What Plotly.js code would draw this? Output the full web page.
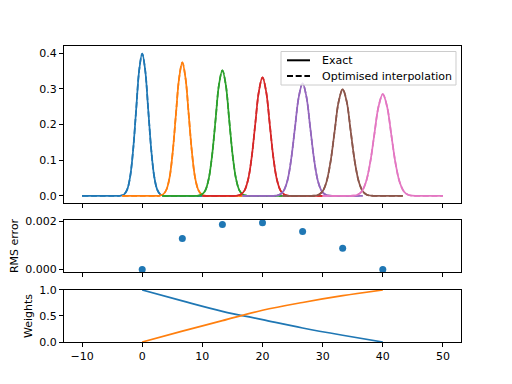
<!DOCTYPE html>
<html>
<head>
<meta charset="utf-8">
<script src="https://cdn.plot.ly/plotly-3.0.1.min.js"></script>
<style>html,body{margin:0;padding:0;background:#fff;}</style>
</head>
<body>
<div id="chart" style="width:512px;height:384px;"></div>
<script>
// ---- data ----
const xTicks = [-10, 0, 10, 20, 30, 40, 50];
const centers = [0, 6.67, 13.33, 20, 26.67, 33.33, 40];
const rmsError = [0, 0.00129, 0.00187, 0.00195, 0.00158, 0.00089, 0];
const weightA = [1, 0.79, 0.59, 0.43, 0.27, 0.13, 0];
const weightB = [0, 0.21, 0.41, 0.61, 0.76, 0.89, 1];
const legendLabels = ['Exact', 'Optimised interpolation'];
const colors = ['#1f77b4', '#ff7f0e', '#2ca02c', '#d62728', '#9467bd', '#8c564b', '#e377c2'];

const curveX0 = [-10, -4, -3.5, -3, -2.5, -2, -1.5, -1, -0.5, 0, 0.5, 1, 1.5, 2, 2.5, 3, 3.5, 4, 10];
const curveY0 = [0, 0.0001, 0.0009, 0.0044, 0.0175, 0.054, 0.130, 0.242, 0.352, 0.399, 0.352, 0.242, 0.130, 0.054, 0.0175, 0.0044, 0.0009, 0.0001, 0];
const curveX1 = [-3.33, 2.40, 2.94, 3.47, 4.00, 4.54, 5.07, 5.60, 6.14, 6.67, 7.20, 7.74, 8.27, 8.80, 9.34, 9.87, 10.40, 10.94, 16.67];
const curveY1 = [0, 0.0001, 0.0008, 0.0041, 0.0164, 0.0506, 0.122, 0.227, 0.330, 0.374, 0.330, 0.227, 0.122, 0.0506, 0.0164, 0.0041, 0.0008, 0.0001, 0];
const curveX2 = [3.33, 8.80, 9.36, 9.93, 10.50, 11.06, 11.63, 12.20, 12.76, 13.33, 13.90, 14.46, 15.03, 15.60, 16.16, 16.73, 17.30, 17.86, 23.33];
const curveY2 = [0, 0.0001, 0.0008, 0.0039, 0.0154, 0.0477, 0.115, 0.214, 0.311, 0.352, 0.311, 0.214, 0.115, 0.0477, 0.0154, 0.0039, 0.0008, 0.0001, 0];
const curveX3 = [10, 15.2, 15.8, 16.4, 17.0, 17.6, 18.2, 18.8, 19.4, 20, 20.6, 21.2, 21.8, 22.4, 23.0, 23.6, 24.2, 24.8, 30];
const curveY3 = [0, 0.0001, 0.0008, 0.0037, 0.0146, 0.045, 0.108, 0.202, 0.293, 0.332, 0.293, 0.202, 0.108, 0.045, 0.0146, 0.0037, 0.0008, 0.0001, 0];
const curveX4 = [16.67, 21.60, 22.24, 22.87, 23.50, 24.14, 24.77, 25.40, 26.04, 26.67, 27.30, 27.94, 28.57, 29.20, 29.84, 30.47, 31.10, 31.74, 36.67];
const curveY4 = [0, 0.0001, 0.0007, 0.0035, 0.0138, 0.0426, 0.103, 0.191, 0.278, 0.315, 0.278, 0.191, 0.103, 0.0426, 0.0138, 0.0035, 0.0007, 0.0001, 0];
const curveX5 = [23.33, 28.0, 28.66, 29.33, 30.0, 30.66, 31.33, 32.0, 32.66, 33.33, 34.0, 34.66, 35.33, 36.0, 36.66, 37.33, 38.0, 38.66, 43.33];
const curveY5 = [0, 0.0001, 0.0007, 0.0033, 0.0131, 0.0405, 0.0975, 0.182, 0.264, 0.299, 0.264, 0.182, 0.0975, 0.0405, 0.0131, 0.0033, 0.0007, 0.0001, 0];
const curveX6 = [30, 34.4, 35.1, 35.8, 36.5, 37.2, 37.9, 38.6, 39.3, 40, 40.7, 41.4, 42.1, 42.8, 43.5, 44.2, 44.9, 45.6, 50];
const curveY6 = [0, 0.0001, 0.0006, 0.0031, 0.0125, 0.0386, 0.093, 0.173, 0.251, 0.285, 0.251, 0.173, 0.093, 0.0386, 0.0125, 0.0031, 0.0006, 0.0001, 0];

const curvesX = [curveX0, curveX1, curveX2, curveX3, curveX4, curveX5, curveX6];
const curvesY = [curveY0, curveY1, curveY2, curveY3, curveY4, curveY5, curveY6];

const DASH = '6px,2.7px';

// ---- traces ----
const traces = [];
curvesX.forEach((xs, i) => {
  traces.push({x: xs, y: curvesY[i], type: 'scatter', mode: 'lines', xaxis: 'x', yaxis: 'y',
    name: legendLabels[0], line: {color: colors[i], width: 1.7, shape: 'spline'}, hoverinfo: 'skip'});
  traces.push({x: xs, y: curvesY[i], type: 'scatter', mode: 'lines', xaxis: 'x', yaxis: 'y',
    name: legendLabels[1], line: {color: colors[i], width: 1.7, shape: 'spline', dash: DASH}, hoverinfo: 'skip'});
});

traces.push({x: centers, y: rmsError, type: 'scatter', mode: 'markers', xaxis: 'x2', yaxis: 'y2',
  marker: {color: colors[0], size: 7}, cliponaxis: false});

traces.push({x: centers, y: weightA, type: 'scatter', mode: 'lines', xaxis: 'x3', yaxis: 'y3',
  line: {color: colors[0], width: 1.7, shape: 'spline'}, cliponaxis: false});
traces.push({x: centers, y: weightB, type: 'scatter', mode: 'lines', xaxis: 'x3', yaxis: 'y3',
  line: {color: colors[1], width: 1.7, shape: 'spline'}, cliponaxis: false});

const axBase = {
  showline: true, mirror: true, linecolor: 'black', linewidth: 1,
  ticks: 'outside', ticklen: 4, tickcolor: 'black', tickwidth: 1,
  showgrid: false, zeroline: false
};
const xBase = Object.assign({}, axBase, {range: [-13, 53], tickmode: 'array', tickvals: xTicks,
  ticktext: xTicks.map(v => v < 0 ? '\u2212' + Math.abs(v) : String(v))});

// matplotlib-style legend box (paper coordinates of the top panel)
const legBox = {x0: 0.5466, x1: 0.9874, y0: 0.8682, y1: 0.9814};
const legRows = [0.9517, 0.8986];
const legLineX = [0.5617, 0.6196];
const legTextX = 0.6448;

const shapes = [
  {type: 'rect', xref: 'paper', yref: 'paper', x0: legBox.x0, x1: legBox.x1, y0: legBox.y0, y1: legBox.y1,
   fillcolor: 'rgba(255,255,255,0.8)', line: {color: '#cccccc', width: 1}, layer: 'above'}
];
const annotations = [];
legendLabels.forEach((lab, i) => {
  shapes.push({type: 'line', xref: 'paper', yref: 'paper', x0: legLineX[0], x1: legLineX[1],
    y0: legRows[i], y1: legRows[i], line: {color: 'black', width: 2, dash: i === 1 ? DASH : 'solid'}, layer: 'above'});
  annotations.push({xref: 'paper', yref: 'paper', x: legTextX, y: legRows[i], text: lab,
    showarrow: false, xanchor: 'left', yanchor: 'middle', font: {family: 'DejaVu Sans', size: 11, color: 'black'}});
});

const layout = {
  width: 512, height: 384,
  margin: {l: 64, r: 51, t: 46, b: 42},
  paper_bgcolor: 'white', plot_bgcolor: 'white',
  font: {family: 'DejaVu Sans', size: 11, color: 'black'},
  showlegend: false,
  shapes: shapes,
  annotations: annotations,
  xaxis: Object.assign({}, xBase, {anchor: 'y', showticklabels: false}),
  xaxis2: Object.assign({}, xBase, {anchor: 'y2', showticklabels: false}),
  xaxis3: Object.assign({}, xBase, {anchor: 'y3', showticklabels: true}),
  yaxis: Object.assign({}, axBase, {anchor: 'x', domain: [0.4696, 1], range: [-0.02, 0.42],
    tickmode: 'array', tickvals: [0, 0.1, 0.2, 0.3, 0.4], ticktext: ['0.0', '0.1', '0.2', '0.3', '0.4']}),
  yaxis2: Object.assign({}, axBase, {anchor: 'x2', domain: [0.2365, 0.4122], range: [-0.0001, 0.00206],
    tickmode: 'array', tickvals: [0, 0.002], ticktext: ['0.000', '0.002'],
    title: {text: 'RMS error', font: {size: 11}, standoff: 4}}),
  yaxis3: Object.assign({}, axBase, {anchor: 'x3', domain: [0, 0.1757], range: [0, 1],
    tickmode: 'array', tickvals: [0, 0.5, 1], ticktext: ['0.0', '0.5', '1.0'],
    title: {text: 'Weights', font: {size: 11}, standoff: 4}})
};

Plotly.newPlot('chart', traces, layout, {displayModeBar: false, staticPlot: true});
</script>
</body>
</html>
